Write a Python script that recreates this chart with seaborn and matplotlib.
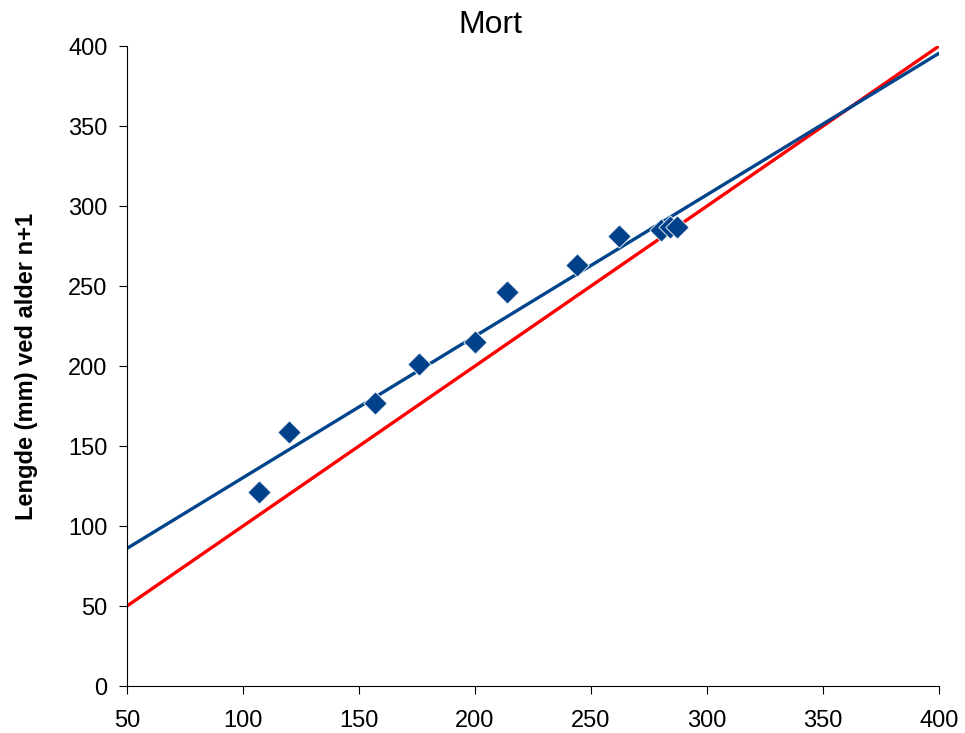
import matplotlib
matplotlib.use("Agg")
import matplotlib.pyplot as plt
import seaborn as sns
import pandas as pd

# observed lengths at age n (x) and n+1 (y)
length_n = [107, 120, 157, 176, 200, 214, 244, 262, 280, 284, 287]
length_n1 = [121, 159, 177, 201, 215, 246, 263, 281, 285, 287, 287]

# trend line (end points) and the 1:1 line
trend_x = [50, 400]
trend_y = [86, 395.5]
ident_x = [50, 400]
ident_y = [50, 400]

sns.set_theme(style="white")
plt.rcParams["font.family"] = ["Liberation Sans", "DejaVu Sans"]
plt.rcParams["text.color"] = "black"
plt.rcParams["axes.labelcolor"] = "black"

fig = plt.figure(figsize=(9.65, 7.33), dpi=100)
ax = fig.add_axes([0.1316, 0.0641, 0.8415, 0.8731])

pts = pd.DataFrame({"x": length_n, "y": length_n1})
sns.lineplot(x=ident_x, y=ident_y, color="#ff0000", lw=2.4, ax=ax)
sns.lineplot(x=trend_x, y=trend_y, color="#00458c", lw=2.4, ax=ax)
sns.scatterplot(data=pts, x="x", y="y", marker="D", s=140, color="#00428a",
                edgecolor="white", linewidth=0.6, ax=ax, zorder=3)

ax.set_xlim(50, 400)
ax.set_ylim(0, 400)
ax.set_xticks(range(50, 401, 50))
ax.set_yticks(range(0, 401, 50))
ax.set_xlabel("")
ax.set_ylabel("Lengde (mm) ved alder n+1", fontsize=17, fontweight="bold", labelpad=22)
fig.text(0.508, 0.966, "Mort", fontsize=23, ha="center", va="center", color="black")

for s in ["top", "right"]:
    ax.spines[s].set_visible(False)
for s in ["left", "bottom"]:
    ax.spines[s].set_color("black")
    ax.spines[s].set_linewidth(0.8)
ax.tick_params(axis="both", direction="out", length=6, width=0.8, colors="black",
               labelsize=17)
ax.tick_params(axis="x", pad=11)
ax.tick_params(axis="y", pad=8)
ax.tick_params(bottom=True, left=True)

fig.savefig("out.png", dpi=100)
